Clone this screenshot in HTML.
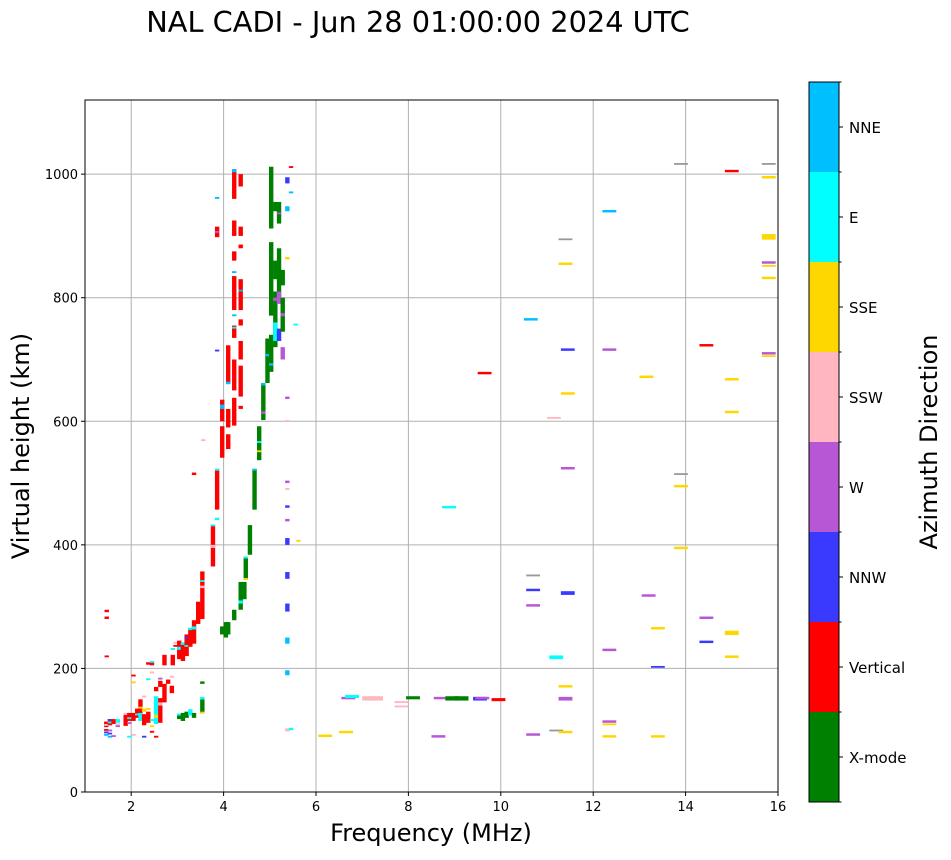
<!DOCTYPE html>
<html><head><meta charset="utf-8"><style>
body{margin:0;background:#fff;font-family:"DejaVu Sans","Liberation Sans",sans-serif}
svg text{font-family:"DejaVu Sans","Liberation Sans",sans-serif}
</style></head><body>
<svg id="chart" width="951" height="856" xmlns="http://www.w3.org/2000/svg">
<rect width="951" height="856" fill="#fff"/>
<text x="418" y="32" font-size="28.8" text-anchor="middle">NAL CADI - Jun 28 01:00:00 2024 UTC</text>
<g id="grid"></g>
<g id="marks"></g>
<rect x="85" y="100" width="693" height="692" fill="none" stroke="#000" stroke-width="1"/>
<g id="axes"></g>
<text x="431" y="841" font-size="24" text-anchor="middle">Frequency (MHz)</text>
<text transform="translate(29,446) rotate(-90)" font-size="24" text-anchor="middle">Virtual height (km)</text>
<g id="cbar"></g>
<text transform="translate(937,442) rotate(-90)" font-size="24" text-anchor="middle">Azimuth Direction</text>
</svg>
<script>
const categories = ["X-mode","Vertical","NNW","W","SSW","SSE","E","NNE","Unknown"];
const colors = ["#008000","#ff0000","#3a3aff","#b857d6","#ffb6c1","#ffd700","#00ffff","#00bfff","#999999"];
const xTicks = [2,4,6,8,10,12,14,16];
const yTicks = [0,200,400,600,800,1000];
// [frequency MHz, height low km, height high km, category index]
const echoes = [
[1.46,105,114,1],[1.46,99,102,1],[1.46,108,110,4],[1.46,91,94,7],[1.46,95,98,2],[1.47,280,284,1],[1.47,291,295,1],[1.47,218,221,1],
[1.54,108,118,1],[1.54,116,118,2],[1.54,112,114,6],[1.54,99,101,3],[1.54,94,96,2],[1.54,88,91,7],
[1.62,110,118,1],[1.62,90,92,3],[1.71,112,118,6],[1.71,108,111,4],[1.71,106,108,3],
[1.88,107,125,1],[1.88,125,128,4],[1.96,115,128,1],[1.96,118,121,6],[1.96,110,113,3],[1.96,88,91,6],
[2.05,115,128,1],[2.05,91,94,4],[2.05,187,190,1],[2.05,176,179,5],[2.13,120,135,1],[2.13,124,127,6],
[2.2,127,150,1],[2.2,115,128,6],[2.2,135,138,5],[2.28,108,126,1],[2.28,130,135,5],[2.28,88,91,2],[2.28,153,156,4],
[2.37,112,130,1],[2.37,133,136,5],[2.37,181,184,6],[2.37,206,210,1],
[2.45,205,210,1],[2.45,210,212,6],[2.45,105,108,5],[2.45,115,118,6],[2.45,96,99,1],[2.45,192,195,4],
[2.54,163,170,1],[2.54,110,155,6],[2.54,120,125,5],[2.54,88,91,1],
[2.63,170,180,1],[2.63,112,152,1],[2.63,182,185,3],[2.63,140,145,4],
[2.72,205,222,1],[2.72,145,175,1],[2.8,175,182,1],[2.88,160,172,1],[2.88,185,188,4],
[2.9,205,222,1],[2.9,230,233,6],[2.96,240,243,4],[2.96,235,238,1],
[3.04,215,245,1],[3.04,230,235,6],[3.04,118,124,0],[3.04,124,127,6],
[3.12,212,242,1],[3.12,238,242,6],[3.12,115,128,0],
[3.2,220,255,1],[3.2,248,251,2],[3.2,235,238,6],[3.2,120,130,0],
[3.28,235,265,1],[3.28,262,266,6],[3.28,124,134,6],
[3.36,240,278,1],[3.36,263,268,6],[3.36,120,128,0],[3.36,513,517,1],
[3.45,272,308,1],[3.54,280,357,1],[3.54,330,334,4],[3.54,340,343,6],[3.54,175,179,0],[3.54,127,150,0],[3.54,150,154,6],[3.54,127,130,5],
[3.56,568,571,4],
[3.77,365,432,1],[3.77,430,433,6],[3.77,395,400,4],
[3.86,457,523,1],[3.86,520,523,6],[3.86,440,444,6],[3.86,898,915,1],[3.86,905,908,3],[3.86,960,963,7],[3.86,713,716,2],
[3.97,541,592,1],[3.97,600,635,1],[3.97,620,627,7],[3.97,255,268,0],
[4.05,250,275,0],
[4.1,662,723,1],[4.1,555,579,1],[4.1,590,620,1],[4.1,255,275,0],[4.1,660,664,7],
[4.23,960,1008,1],[4.23,1003,1008,7],[4.23,900,925,1],[4.23,860,875,1],[4.23,780,835,1],[4.23,735,755,1],[4.23,770,773,7],[4.23,650,700,1],[4.23,593,638,1],[4.23,278,295,0],[4.23,840,843,7],[4.23,750,753,6],
[4.37,980,1000,1],[4.37,900,915,1],[4.37,880,886,1],[4.37,780,830,1],[4.37,755,765,1],[4.37,700,730,1],[4.37,640,690,1],[4.37,620,625,1],[4.37,295,340,0],[4.37,305,310,6],[4.37,810,813,7],
[4.45,312,340,0],[4.48,346,381,0],[4.48,378,381,6],[4.48,343,346,5],[4.57,384,432,0],
[4.67,457,523,0],[4.67,520,523,7],[4.77,537,592,0],[4.77,565,568,6],[4.77,550,553,5],
[4.86,602,662,0],[4.86,658,662,7],[4.86,612,616,3],[4.95,662,734,0],[4.95,705,709,7],
[5.03,912,1012,0],[5.03,870,890,0],[5.03,771,870,0],[5.03,680,740,0],[5.03,690,694,7],
[5.12,940,955,0],[5.12,830,860,0],[5.12,720,810,0],[5.12,730,760,6],[5.12,795,800,3],
[5.2,920,955,0],[5.2,800,880,0],[5.2,935,938,3],[5.2,790,810,3],[5.2,730,750,2],
[5.28,820,845,0],[5.28,745,800,0],[5.28,770,775,3],[5.28,700,720,3],
[5.38,985,995,2],[5.38,940,948,7],[5.38,862,866,5],[5.38,460,464,2],[5.38,438,442,3],[5.38,400,411,2],[5.38,345,356,2],[5.38,292,305,2],[5.38,240,250,7],[5.38,189,197,7],[5.38,636,640,3],[5.38,500,504,3],[5.38,489,492,4],[5.38,599,602,4],[5.38,98,103,4],
[5.46,1010,1013,1],[5.46,969,972,7],[5.46,100,104,6],[5.56,755,758,6],[5.62,405,408,5],
[6.2,89,93,5],[6.65,95,99,5],[6.7,150,154,3],[6.78,152,157,6],[7.15,148,155,4],[7.3,148,155,4],[7.85,144,147,4],[7.85,137,140,4],
[8.1,150,155,0],[8.65,88,92,3],[8.7,150,154,3],[8.95,148,155,0],[9.15,148,155,0],[9.55,148,154,2],[9.6,150,154,3],[9.95,147,152,1],
[8.88,459,463,6],[9.65,676,680,1],[10.65,763,767,7],[10.7,349,352,8],[10.7,325,329,2],[10.7,300,304,3],[10.7,91,95,3],
[11.2,215,221,6],[11.15,604,607,4],[11.2,99,101,8],[11.4,894,896,8],[11.4,853,857,5],[11.45,714,718,2],[11.45,643,647,5],[11.45,522,526,3],[11.45,319,325,2],[11.4,169,173,5],[11.4,148,154,3],[11.4,95,99,5],
[12.35,938,942,7],[12.35,714,718,3],[12.35,228,232,3],[12.35,112,116,3],[12.35,108,111,5],[12.35,88,92,5],
[13.15,670,674,5],[13.2,316,320,3],[13.4,263,267,5],[13.4,202,204,2],[13.4,88,92,5],
[13.9,1016,1018,8],[13.9,514,516,8],[13.9,493,497,5],[13.9,393,397,5],
[14.45,721,725,1],[14.45,280,284,3],[14.45,241,245,2],
[15.0,1003,1007,1],[15.0,666,670,5],[15.0,613,617,5],[15.0,254,261,5],[15.0,217,221,5],
[15.8,1016,1018,8],[15.8,993,997,5],[15.8,894,903,5],[15.8,855,859,3],[15.8,850,853,5],[15.8,830,834,5],[15.8,708,712,3],[15.8,705,707,5]
];
const NS="http://www.w3.org/2000/svg";
const X0=85,X1=778,Y0=792,Y1=100;
function xs(f){return X0+(f-1)*(X1-X0)/15;}
function ys(h){return Y0-h*(Y0-Y1)/1120;}
function mk(tag,attrs,parent){const e=document.createElementNS(NS,tag);for(const k in attrs)e.setAttribute(k,attrs[k]);parent.appendChild(e);return e;}
const grid=document.getElementById('grid'),axes=document.getElementById('axes'),marks=document.getElementById('marks'),cbar=document.getElementById('cbar');
xTicks.forEach(t=>{
  const x=xs(t);
  const g=mk('line',{x1:x,x2:x,y1:Y1,y2:Y0,stroke:'#b0b0b0','stroke-width':1},grid);
  
  
  mk('line',{x1:x,x2:x,y1:Y0,y2:Y0+4,stroke:'#000'},axes);
  const l=mk('text',{x:x,y:Y0+19,'font-size':13,'text-anchor':'middle'},axes);
  l.textContent=t;
  
  
});
yTicks.forEach(t=>{
  const y=ys(t);
  const g=mk('line',{x1:X0,x2:X1,y1:y,y2:y,stroke:'#b0b0b0','stroke-width':1},grid);
  
  
  mk('line',{x1:X0-4,x2:X0,y1:y,y2:y,stroke:'#000'},axes);
  const l=mk('text',{x:X0-7,y:y+5,'font-size':13,'text-anchor':'end'},axes);
  l.textContent=t;
  
  
});
echoes.forEach(d=>{
  const w=d[0]<6?0.095:0.3;
  const x=xs(d[0]-w/2),x2=xs(d[0]+w/2);
  const yTop=ys(d[2]),yBot=ys(d[1]);
  const r=mk('rect',{x:x,y:yTop,width:x2-x,height:Math.max(1.8,yBot-yTop),fill:colors[d[3]]},marks);
  
  
});
const CX=809,CW=30,CT=82,CB=802,n=8,seg=(CB-CT)/n;
for(let i=0;i<n;i++){
  const y=CB-(i+1)*seg;
  const r=mk('rect',{x:CX,y:y,width:CW,height:seg,fill:colors[i]},cbar);
  
  
  mk('line',{x1:CX+CW,x2:CX+CW+4,y1:y+seg/2,y2:y+seg/2,stroke:'#000'},cbar);
  const l=mk('text',{x:CX+CW+10,y:y+seg/2+6,'font-size':15},cbar);
  l.textContent=categories[i];
  
  
}
for(let i=0;i<=n;i++){const y=CB-i*seg;mk('line',{x1:CX+CW,x2:CX+CW+2.5,y1:y,y2:y,stroke:'#000'},cbar);}
mk('rect',{x:CX,y:CT,width:CW,height:CB-CT,fill:'none',stroke:'#000'},cbar);
</script>
</body></html>
